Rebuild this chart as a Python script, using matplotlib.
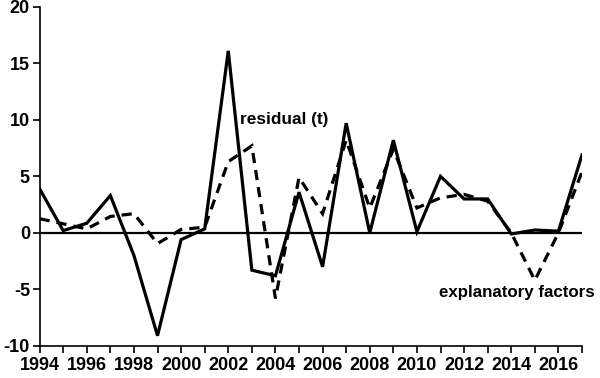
import matplotlib
matplotlib.use("Agg")
import matplotlib.pyplot as plt
from matplotlib.ticker import MultipleLocator

years = list(range(1994, 2018))
residual = [3.9, 0.2, 0.85, 3.3, -2.0, -9.1, -0.6, 0.35, 16.1, -3.3, -3.8, 3.6,
            -3.0, 9.7, 0.0, 8.2, 0.1, 5.0, 3.0, 3.0, -0.1, 0.25, 0.15, 6.9]
explanatory = [1.25, 0.8, 0.35, 1.45, 1.7, -0.95, 0.3, 0.5, 6.3, 7.7, -5.8, 4.9,
               1.7, 8.2, 2.2, 7.4, 2.2, 3.1, 3.4, 2.8, 0.0, -4.2, 0.0, 5.4]
yticks = [-10, -5, 0, 5, 10, 15, 20]

plt.rcParams['font.family'] = ['Liberation Sans', 'DejaVu Sans']
plt.rcParams['font.weight'] = 'bold'
plt.rcParams['axes.unicode_minus'] = False

fig = plt.figure(figsize=(6.0, 3.78), dpi=100)
ax = fig.add_axes([0.066, 0.085, 0.904, 0.897])

ax.axhline(0, color='black', lw=1.6, zorder=1)
ax.plot(years, explanatory, color='black', lw=2.3, linestyle=(0, (3.2, 2.2)),
        solid_joinstyle='miter', dash_joinstyle='miter', zorder=2)
ax.plot(years, residual, color='black', lw=2.3, solid_joinstyle='miter', zorder=3)

ax.set_xlim(1994, 2017)
ax.set_ylim(-10, 20)
ax.set_yticks(yticks)
ax.xaxis.set_major_locator(MultipleLocator(2))
ax.xaxis.set_minor_locator(MultipleLocator(1))
ax.tick_params(axis='both', which='both', direction='out', length=5, width=1.2,
               labelsize=13, colors='black')
ax.tick_params(axis='x', pad=3)
ax.tick_params(axis='y', pad=2)
for lab in ax.get_xticklabels() + ax.get_yticklabels():
    lab.set_fontweight('bold')

for s in ['top', 'right']:
    ax.spines[s].set_visible(False)
for s in ['left', 'bottom']:
    ax.spines[s].set_linewidth(1.2)

ax.text(2002.5, 10.0, 'residual (t)', fontsize=12.4, fontweight='bold',
        ha='left', va='center')
ax.text(2010.95, -5.3, 'explanatory factors', fontsize=12.2, fontweight='bold',
        ha='left', va='center', clip_on=False)

fig.savefig('out.png', dpi=100)
